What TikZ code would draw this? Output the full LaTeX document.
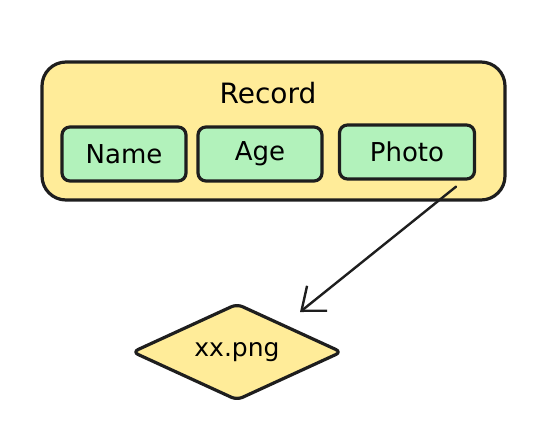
\documentclass[tikz,border=0pt]{standalone}
\usepackage{fontspec}
\setmainfont{DejaVu Sans}
\usetikzlibrary{arrows.meta,shapes.geometric}
\definecolor{ink}{HTML}{1E1E1E}
\definecolor{sand}{HTML}{FFEC99}
\definecolor{mint}{HTML}{B2F2BB}
\begin{document}
\begin{tikzpicture}[x=1pt,y=-1pt,line join=round,line cap=round,>={Straight Barb[length=20pt,width=32pt,line width=2.4pt]},
	outer/.style={draw=ink,fill=sand,line width=3.2pt,rounded corners=24pt},
	field/.style={draw=ink,fill=mint,line width=3.2pt,rounded corners=8pt,minimum height=54pt,font=\fontsize{26}{30}\selectfont},
	file/.style={shape=diamond,draw=ink,fill=sand,line width=3.2pt,rounded corners=6pt,minimum width=210pt,minimum height=97pt,aspect=2.16,inner sep=0pt,font=\fontsize{25}{30}\selectfont}]
				\useasboundingbox (0,0) rectangle (559,445);
				\draw[outer] (42,62) rectangle (505,200);
				\node[font=\fontsize{28}{32}\selectfont] (record) at (268,93) {Record};
				\node[field,minimum width=124pt] (name) at (124,154) {Name};
				\node[field,minimum width=124pt] (age) at (260,154) {Age};
				\node[field,minimum width=135pt] (photo) at (407,152) {Photo};
				\node[file] (png) at (237,352) {xx.png};
				\coordinate (tip) at (300,312);
				\draw[->,draw=ink,line width=2.4pt] ([xshift=-20pt,yshift=-6pt]photo.south east)--(tip);
			\end{tikzpicture}
\end{document}
